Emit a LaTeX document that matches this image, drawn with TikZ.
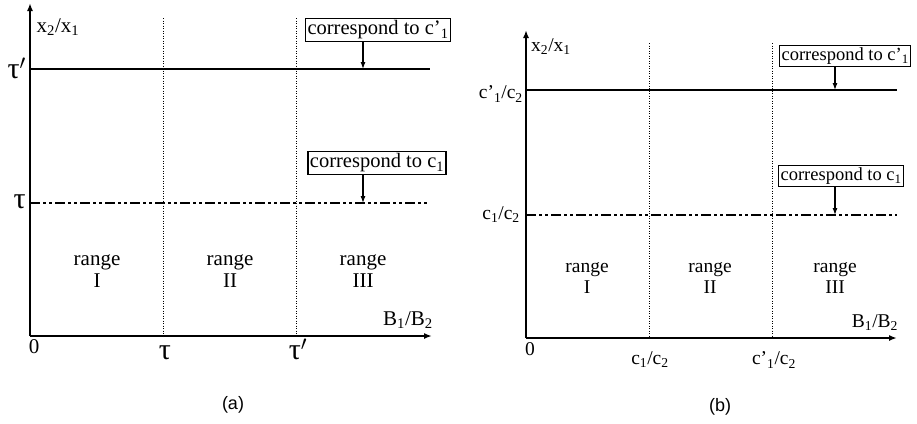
\documentclass[tikz,border=0pt]{standalone}
\usepackage{fontspec}
\setmainfont{Liberation Serif}
\newfontfamily\capfont{Liberation Sans}
\usetikzlibrary{arrows.meta,positioning}

\begin{document}
\begin{tikzpicture}[x=1pt,y=-1pt,>=Latex,
axis/.style={->,line width=1.6pt,>={Latex[length=8pt,width=6pt]}},
level/.style={line width=2pt},
dashdot/.style={line width=2pt,dash pattern=on 10pt off 3pt on 3pt off 3pt on 3pt off 3pt},
guide/.style={line width=0.8pt,dash pattern=on 1pt off 1.5pt},
note/.style={draw,line width=1.1pt,inner sep=2pt,font=\fontsize{20.5}{22}\selectfont},
noteb/.style={note,font=\fontsize{18.5}{20}\selectfont},
pointer/.style={->,line width=1.1pt,>={Latex[length=7pt,width=5pt]}},
lab/.style={font=\fontsize{21}{22}\selectfont,inner sep=1pt},
labb/.style={font=\fontsize{19.5}{21}\selectfont,inner sep=1pt},
rng/.style={font=\fontsize{21}{22}\selectfont,align=center},
rngb/.style={font=\fontsize{19.5}{21}\selectfont,align=center},
greek/.style={font=\fontsize{30}{30}\selectfont,inner sep=1pt}]

\useasboundingbox (0,0) rectangle (917,423);

% (a)
\coordinate (oa) at (30,336);
\draw[axis] (oa) -- (30,3);
\draw[axis] (oa) -- (432,336);
\draw[guide] (163,18) -- (163,336);
\draw[guide] (296,18) -- (296,336);
\draw[level] (30,69) -- (430,69);
\draw[dashdot] (30,203) -- (428,203);

\node[note] (ka1) at (378,30) {correspond to c’\textsubscript{1}};
\node[note] (ka2) at (377,163) {correspond to c\textsubscript{1}};
\coordinate (ta1) at (363,69);
\coordinate (ta2) at (363,203);
\draw[pointer] (ka1.south -| ta1) -- (ta1);
\draw[pointer] (ka2.south -| ta2) -- (ta2);

\node[lab] (ya) at (58,27) {x\textsubscript{2}/x\textsubscript{1}};
\node[greek,anchor=east] (tpa) at (27,68) {τ$'$};
\node[greek,anchor=east] (tma) at (27,202) {τ};
\node[rng] (ra1) at (97,271) {range\\I};
\node[rng] (ra2) at (230,271) {range\\II};
\node[rng] (ra3) at (363,271) {range\\III};
\node[lab] (xa) at (408,320) {B\textsubscript{1}/B\textsubscript{2}};
\node[lab] (za) at (34,347) {0};
\node[greek] (t1a) at (165,353) {τ};
\node[greek] (t2a) at (298,349) {τ$'$};
\node[font=\capfont\fontsize{18}{20}\selectfont] (cpa) at (233,405) {(a)};

% (b)
\coordinate (ob) at (526,338);
\draw[axis] (ob) -- (526,30);
\draw[axis] (ob) -- (897,338);
\draw[guide] (649,43) -- (649,338);
\draw[guide] (772,43) -- (772,338);
\draw[level] (526,90) -- (897,90);
\draw[dashdot] (526,215) -- (897,215);

\node[noteb,anchor=west] (kb1) at (779,56) {correspond to c’\textsubscript{1}};
\node[noteb,anchor=west] (kb2) at (778,176) {correspond to c\textsubscript{1}};
\coordinate (tb1) at (835,90);
\coordinate (tb2) at (835,215);
\draw[pointer] (kb1.south -| tb1) -- (tb1);
\draw[pointer] (kb2.south -| tb2) -- (tb2);

\node[labb] (yb) at (551,47) {x\textsubscript{2}/x\textsubscript{1}};
\node[labb,anchor=east] (cpb) at (524,94) {c’\textsubscript{1}/c\textsubscript{2}};
\node[labb,anchor=east] (cmb) at (521,215) {c\textsubscript{1}/c\textsubscript{2}};
\node[rngb] (rb1) at (587,278) {range\\I};
\node[rngb] (rb2) at (710,278) {range\\II};
\node[rngb] (rb3) at (835,278) {range\\III};
\node[labb] (xb) at (875,323) {B\textsubscript{1}/B\textsubscript{2}};
\node[labb] (zb) at (530,349) {0};
\node[labb] (c1b) at (650,360) {c\textsubscript{1}/c\textsubscript{2}};
\node[labb] (c2b) at (774,360) {c’\textsubscript{1}/c\textsubscript{2}};
\node[font=\capfont\fontsize{18}{20}\selectfont] (cpbb) at (720,407) {(b)};
\end{tikzpicture}
\end{document}
